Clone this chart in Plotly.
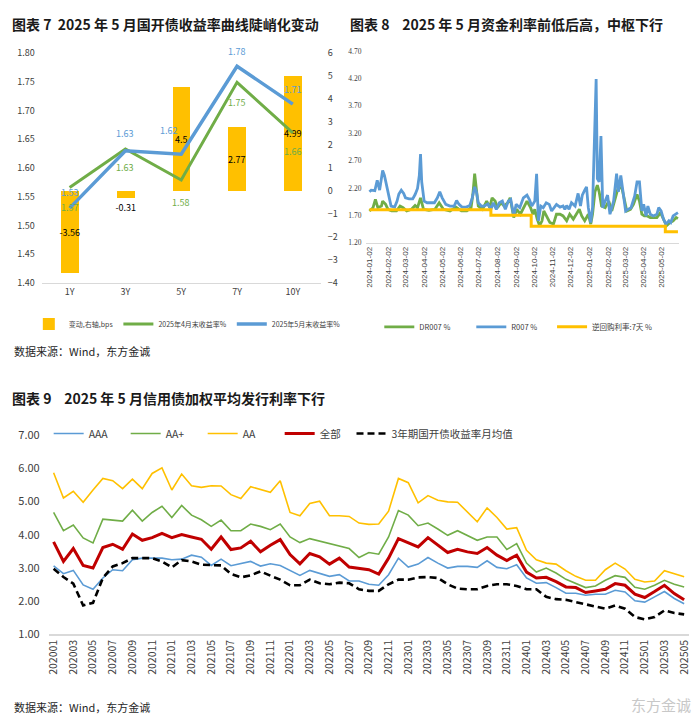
import plotly.graph_objects as go

FONT = "Noto Sans CJK SC"
W, H = 700, 726


def px_x(x):
    return x / W


def px_y(y):
    return 1 - y / H


# ---------------- Chart 7 data ----------------
tenors = ["1Y", "3Y", "5Y", "7Y", "10Y"]
change_bps = [-3.56, -0.31, 4.5, 2.77, 4.99]
yld_apr = [1.566, 1.633, 1.579, 1.749, 1.661]
yld_may = [1.530, 1.630, 1.624, 1.777, 1.711]
apr_labels = ["1.57", "1.63", "1.58", "1.75", "1.66"]
may_labels = ["1.53", "1.63", "1.62", "1.78", "1.71"]
change_labels = ["-3.56", "-0.31", "4.5", "2.77", "4.99"]

# ---------------- Chart 8 data ----------------
r007_dates = [
    "2024-01-02", "2024-01-05", "2024-01-11", "2024-01-15", "2024-01-19", "2024-01-22", "2024-01-24",
    "2024-01-27", "2024-01-30", "2024-02-03", "2024-02-07", "2024-02-13", "2024-02-17", "2024-02-20",
    "2024-02-24", "2024-02-28", "2024-03-02", "2024-03-08", "2024-03-14", "2024-03-18", "2024-03-22",
    "2024-03-25", "2024-03-27", "2024-03-29", "2024-04-02", "2024-04-07", "2024-04-14", "2024-04-19",
    "2024-04-24", "2024-04-28", "2024-05-02", "2024-05-08", "2024-05-15", "2024-05-22", "2024-05-26",
    "2024-05-30", "2024-06-04", "2024-06-11", "2024-06-17", "2024-06-21", "2024-06-25", "2024-06-28",
    "2024-07-01", "2024-07-06", "2024-07-11", "2024-07-17", "2024-07-22", "2024-07-26", "2024-07-31",
    "2024-08-05", "2024-08-10", "2024-08-15", "2024-08-20", "2024-08-24", "2024-08-29", "2024-09-02",
    "2024-09-08", "2024-09-14", "2024-09-20", "2024-09-24", "2024-09-28", "2024-10-03", "2024-10-06",
    "2024-10-09", "2024-10-13", "2024-10-17", "2024-10-22", "2024-10-27", "2024-10-31", "2024-11-04",
    "2024-11-08", "2024-11-14", "2024-11-19", "2024-11-22", "2024-11-25", "2024-11-29", "2024-12-03",
    "2024-12-09", "2024-12-14", "2024-12-18", "2024-12-21", "2024-12-25", "2024-12-28", "2024-12-31",
    "2025-01-04", "2025-01-07", "2025-01-09", "2025-01-13", "2025-01-15", "2025-01-18", "2025-01-21",
    "2025-01-24", "2025-01-28", "2025-02-01", "2025-02-05", "2025-02-11", "2025-02-16", "2025-02-19",
    "2025-02-23", "2025-02-27", "2025-03-03", "2025-03-07", "2025-03-12", "2025-03-18", "2025-03-22",
    "2025-03-26", "2025-03-30", "2025-04-02", "2025-04-06", "2025-04-09", "2025-04-13", "2025-04-18",
    "2025-04-24", "2025-04-27", "2025-05-01", "2025-05-05", "2025-05-09", "2025-05-14", "2025-05-17",
    "2025-05-21", "2025-05-26", "2025-05-29",
]
r007_vals = [
    2.13, 2.16, 2.15, 2.34, 2.16, 2.37, 2.52,
    2.43, 2.28, 2.08, 1.87, 1.85, 1.96, 2.09,
    2.16, 2.10, 2.02, 2.00, 2.00, 2.08, 2.19,
    2.43, 2.82, 2.31, 1.96, 1.93, 1.93, 1.93,
    2.02, 2.13, 2.02, 1.90, 1.87, 1.87, 1.97,
    1.90, 1.85, 1.85, 1.88, 2.02, 2.22, 2.13,
    1.93, 1.87, 1.87, 1.91, 1.81, 1.93, 1.81,
    1.93, 1.96, 1.81, 1.96, 1.99, 1.69, 1.90,
    1.84, 2.02, 2.07, 1.99, 1.87, 1.96, 2.46,
    1.60, 1.87, 1.84, 1.93, 1.90, 1.78, 1.84,
    1.90, 1.85, 1.87, 1.81, 1.88, 1.81, 1.93,
    1.87, 2.10, 1.87, 2.07, 2.16, 2.22, 1.84,
    1.57, 1.84, 2.58, 4.19, 2.37, 2.31, 3.15,
    1.84, 1.96, 2.07, 1.72, 1.96, 2.46, 2.13,
    2.43, 2.13, 1.78, 1.81, 1.84, 2.05, 2.31,
    2.31, 1.78, 1.90, 1.69, 1.87, 1.72, 1.69,
    1.72, 1.84, 1.78, 1.63, 1.54, 1.60, 1.57,
    1.69, 1.72, 1.75,
]
dr007_dates = [
    "2024-01-02", "2024-01-08", "2024-01-12", "2024-01-16", "2024-01-22", "2024-01-24", "2024-01-29",
    "2024-02-02", "2024-02-08", "2024-02-16", "2024-02-22", "2024-02-27", "2024-03-04", "2024-03-12",
    "2024-03-18", "2024-03-22", "2024-03-27", "2024-04-01", "2024-04-10", "2024-04-20", "2024-04-27",
    "2024-05-04", "2024-05-15", "2024-05-25", "2024-06-03", "2024-06-12", "2024-06-19", "2024-06-22",
    "2024-06-25", "2024-06-28", "2024-07-01", "2024-07-08", "2024-07-15", "2024-07-20", "2024-07-24",
    "2024-07-29", "2024-08-02", "2024-08-08", "2024-08-13", "2024-08-19", "2024-08-23", "2024-08-29",
    "2024-09-03", "2024-09-09", "2024-09-14", "2024-09-20", "2024-09-26", "2024-09-30", "2024-10-03",
    "2024-10-07", "2024-10-11", "2024-10-15", "2024-10-18", "2024-10-23", "2024-10-28", "2024-11-03",
    "2024-11-08", "2024-11-14", "2024-11-19", "2024-11-25", "2024-11-30", "2024-12-06", "2024-12-11",
    "2024-12-16", "2024-12-20", "2024-12-25", "2024-12-31", "2025-01-04", "2025-01-07", "2025-01-11",
    "2025-01-15", "2025-01-18", "2025-01-22", "2025-01-28", "2025-02-03", "2025-02-08", "2025-02-14",
    "2025-02-19", "2025-02-25", "2025-03-01", "2025-03-05", "2025-03-11", "2025-03-16", "2025-03-22",
    "2025-03-26", "2025-03-30", "2025-04-03", "2025-04-08", "2025-04-13", "2025-04-19", "2025-04-24",
    "2025-04-30", "2025-05-05", "2025-05-10", "2025-05-16", "2025-05-21", "2025-05-26", "2025-05-29",
]
dr007_vals = [
    1.78, 1.84, 1.99, 1.84, 1.87, 1.96, 1.90,
    1.81, 1.78, 1.78, 1.87, 1.84, 1.78, 1.81,
    1.88, 1.84, 2.02, 1.81, 1.79, 1.81, 1.93,
    1.81, 1.78, 1.85, 1.78, 1.78, 1.84, 2.08,
    2.46, 2.19, 1.87, 1.81, 1.96, 1.84, 2.02,
    1.96, 1.84, 1.93, 1.87, 1.93, 2.02, 1.66,
    1.81, 1.72, 1.84, 1.96, 1.84, 1.72, 1.81,
    1.63, 1.51, 1.60, 1.78, 1.66, 1.57, 1.54,
    1.72, 1.72, 1.69, 1.60, 1.72, 1.63, 1.72,
    1.81, 1.69, 1.60, 1.72, 1.54, 1.72, 2.13,
    2.25, 2.13, 1.87, 1.84, 1.96, 1.78, 2.02,
    2.22, 2.19, 1.96, 1.78, 1.81, 1.90, 2.08,
    1.96, 1.72, 1.69, 1.69, 1.66, 1.66, 1.66,
    1.75, 1.63, 1.51, 1.57, 1.60, 1.66, 1.64,
]
rrp_dates = ["2024-01-02", "2024-07-22", "2024-09-27", "2025-05-08", "2025-05-29"]
rrp_vals = [1.80, 1.70, 1.50, 1.40, 1.40]
c8_tickvals = [
    "2024-01-02", "2024-02-02", "2024-03-02", "2024-04-02", "2024-05-02", "2024-06-02",
    "2024-07-02", "2024-08-02", "2024-09-02", "2024-10-02", "2024-11-02", "2024-12-02",
    "2025-01-02", "2025-02-02", "2025-03-02", "2025-04-02", "2025-05-02",
]

# ---------------- Chart 9 data ----------------
months = [f"{y}{m:02d}" for y in range(2020, 2026) for m in range(1, 13)][:65]
aaa = [3.06, 2.82, 2.92, 2.48, 2.35, 2.69, 2.94, 2.91, 3.24, 3.29, 3.29, 3.29, 3.24,
       3.26, 3.38, 3.32, 3.07, 3.26, 3.06, 3.12, 3.19, 3.05, 3.12, 3.07, 2.93, 2.77,
       2.92, 2.84, 2.74, 2.79, 2.60, 2.60, 2.50, 2.47, 2.79, 3.29, 3.02, 3.11, 3.31,
       3.14, 2.99, 3.04, 3.04, 3.01, 3.21, 3.01, 2.97, 3.09, 2.69, 2.53, 2.55, 2.40,
       2.23, 2.23, 2.17, 2.20, 2.20, 2.32, 2.27, 2.00, 1.96, 2.12, 2.28, 2.07, 1.91]
aa_plus = [4.67, 4.12, 4.29, 3.90, 3.75, 4.47, 4.44, 4.41, 4.74, 4.41, 4.67, 4.86, 4.52,
           4.88, 4.59, 4.45, 4.25, 4.44, 4.12, 4.12, 4.32, 4.25, 4.15, 4.32, 3.93, 3.76,
           3.88, 3.81, 3.73, 3.65, 3.58, 3.31, 3.46, 3.41, 3.93, 4.73, 4.59, 4.27, 4.35,
           4.17, 3.98, 4.12, 3.98, 3.83, 3.93, 3.93, 3.55, 3.73, 3.14, 2.87, 2.99, 2.84,
           2.65, 2.53, 2.40, 2.45, 2.62, 2.76, 2.71, 2.41, 2.35, 2.47, 2.62, 2.50, 2.42]
aa = [5.87, 5.11, 5.31, 4.98, 5.35, 5.70, 5.63, 5.39, 5.68, 5.39, 5.85, 6.02, 5.35,
      5.83, 5.48, 5.43, 5.48, 5.47, 5.21, 5.09, 5.45, 5.37, 5.28, 5.63, 4.67, 4.57,
      4.94, 5.01, 4.57, 4.57, 4.55, 4.35, 4.31, 4.32, 4.71, 5.70, 5.57, 4.96, 5.18,
      5.04, 4.99, 4.98, 4.68, 4.39, 4.81, 4.52, 4.17, 4.21, 3.53, 3.24, 3.14, 3.11,
      2.91, 2.74, 2.62, 2.62, 2.94, 3.14, 2.96, 2.65, 2.57, 2.60, 2.91, 2.81, 2.73]
all_bonds = [3.78, 3.19, 3.58, 3.07, 2.99, 3.61, 3.71, 3.56, 4.02, 3.83, 3.91, 4.04, 3.91,
             4.00, 3.93, 3.86, 3.56, 3.93, 3.55, 3.60, 3.80, 3.48, 3.68, 3.85, 3.40, 3.12,
             3.43, 3.33, 3.11, 3.29, 3.02, 2.99, 2.94, 2.81, 3.29, 3.88, 3.76, 3.63, 3.91,
             3.68, 3.46, 3.56, 3.48, 3.43, 3.61, 3.38, 3.22, 3.38, 2.87, 2.69, 2.71, 2.58,
             2.42, 2.40, 2.25, 2.30, 2.35, 2.52, 2.47, 2.20, 2.10, 2.28, 2.47, 2.22, 2.03]
cdb3y = [2.97, 2.72, 2.52, 1.86, 1.94, 2.69, 3.04, 3.14, 3.29, 3.30, 3.29, 3.19, 3.01,
         3.23, 3.19, 3.09, 3.07, 3.07, 2.81, 2.71, 2.77, 2.89, 2.76, 2.64, 2.47, 2.47,
         2.64, 2.53, 2.50, 2.55, 2.53, 2.35, 2.30, 2.30, 2.50, 2.64, 2.64, 2.71, 2.72,
         2.69, 2.50, 2.37, 2.35, 2.35, 2.45, 2.50, 2.50, 2.45, 2.35, 2.35, 2.12, 2.05,
         2.03, 1.96, 1.91, 1.84, 1.76, 1.86, 1.76, 1.51, 1.44, 1.51, 1.71, 1.63, 1.59]

BLUE = "#5B9BD5"
GREEN = "#70AD47"
ORANGE = "#FFC000"
RED = "#C00000"

fig = go.Figure()

# ---- Chart 7 ----
fig.add_trace(go.Bar(
    x=tenors, y=change_bps, xaxis="x", yaxis="y", name="变动,右轴,bps",
    marker=dict(color=ORANGE, line=dict(width=0)), width=0.32,
    text=change_labels, textposition=["inside", "outside", "inside", "inside", "inside"],
    insidetextanchor="middle", textangle=0, constraintext="none", cliponaxis=False,
    textfont=dict(size=9, color="black", family=FONT), legend="legend",
))
fig.add_trace(go.Scatter(
    x=tenors, y=yld_apr, xaxis="x", yaxis="y2", name="2025年4月末收益率%",
    mode="lines", line=dict(color=GREEN, width=3), legend="legend",
))
fig.add_trace(go.Scatter(
    x=tenors, y=yld_may, xaxis="x", yaxis="y2", name="2025年5月末收益率%",
    mode="lines", line=dict(color=BLUE, width=3.5), legend="legend",
))

# ---- Chart 8 ----
fig.add_trace(go.Scatter(
    x=dr007_dates, y=dr007_vals, xaxis="x3", yaxis="y3", name="DR007 %",
    mode="lines", line=dict(color=GREEN, width=2.8), legend="legend2",
))
fig.add_trace(go.Scatter(
    x=r007_dates, y=r007_vals, xaxis="x3", yaxis="y3", name="R007 %",
    mode="lines", line=dict(color=BLUE, width=2.8), legend="legend2",
))
fig.add_trace(go.Scatter(
    x=rrp_dates, y=rrp_vals, xaxis="x3", yaxis="y3", name="逆回购利率:7天 %",
    mode="lines", line=dict(color=ORANGE, width=3, shape="hv"), legend="legend4",
))

# ---- Chart 9 ----
for name, vals, color, width, dash, lg in [
    ("AAA", aaa, BLUE, 1.6, "solid", "legend3"),
    ("AA+", aa_plus, GREEN, 1.6, "solid", "legend3"),
    ("AA", aa, ORANGE, 1.6, "solid", "legend3"),
    ("全部", all_bonds, RED, 3, "solid", "legend3"),
    ("3年期国开债收益率月均值", cdb3y, "black", 2.6, "7px,4px", "legend5"),
]:
    fig.add_trace(go.Scatter(
        x=months, y=vals, xaxis="x4", yaxis="y4", name=name, mode="lines",
        line=dict(color=color, width=width, dash=dash), legend=lg,
    ))

axis_common = dict(showgrid=False, zeroline=False, ticks="", color="#404040")
leg_common = dict(xanchor="left", yanchor="middle", orientation="h",
                  bgcolor="rgba(0,0,0,0)", itemwidth=30)

fig.update_layout(
    width=W, height=H, autosize=False,
    margin=dict(l=0, r=0, t=0, b=0),
    paper_bgcolor="white", plot_bgcolor="white",
    font=dict(family=FONT, color="#404040"),
    bargap=0,
    # chart 7
    xaxis=dict(domain=[px_x(38), px_x(319)], anchor="y", type="category", range=[-0.5, 4.5],
               showline=True, linecolor="#D9D9D9", linewidth=1,
               tickfont=dict(size=9, color="#404040"), **axis_common),
    yaxis=dict(domain=[px_y(280), px_y(45)], anchor="x", side="right", range=[-4, 6], dtick=1,
               tickfont=dict(size=9, color="#404040"), ticklabelstandoff=6, **axis_common),
    yaxis2=dict(overlaying="y", anchor="x", side="left", range=[1.40, 1.80], dtick=0.05,
                tickformat=".2f", tickfont=dict(size=9, color="#404040"), ticklabelstandoff=6,
                **axis_common),
    # chart 8
    xaxis3=dict(domain=[px_x(365), px_x(680)], anchor="y3", type="date",
                range=["2023-12-28", "2025-05-31"], tickmode="array",
                tickvals=c8_tickvals, ticktext=c8_tickvals, tickangle=-90,
                showline=True, linecolor="#D9D9D9", linewidth=1,
                tickfont=dict(size=8, color="#404040", family="Liberation Sans"), **axis_common),
    yaxis3=dict(domain=[px_y(239), px_y(43)], anchor="x3", range=[1.2, 4.7], dtick=0.5, tick0=1.2,
                tickformat=".2f", tickfont=dict(size=7.5, color="#404040", family="Liberation Serif"),
                ticklabelstandoff=4, **axis_common),
    # chart 9
    xaxis4=dict(domain=[px_x(45), px_x(690)], anchor="y4", type="category", range=[-0.5, 64.5],
                tickmode="array", tickvals=months[::2], ticktext=months[::2], tickangle=-90,
                showline=True, linecolor="#D9D9D9", linewidth=1.5,
                tickfont=dict(size=10.5, color="#404040"), **axis_common),
    yaxis4=dict(domain=[px_y(639), px_y(436)], anchor="x4", range=[1, 7], dtick=1,
                tickformat=".2f", tickfont=dict(size=11, color="#404040"), ticklabelstandoff=8,
                **axis_common),
    legend=dict(x=px_x(25), y=px_y(322), font=dict(size=7, color="#404040"), **leg_common),
    legend2=dict(x=px_x(378), y=px_y(325), font=dict(size=7.5, color="#404040"),
                 entrywidth=47, **leg_common),
    legend4=dict(x=px_x(552), y=px_y(325), font=dict(size=7.5, color="#404040"), **leg_common),
    legend3=dict(x=px_x(45), y=px_y(434), font=dict(size=10.5, color="#404040"),
                 entrywidth=32, **leg_common),
    legend5=dict(x=px_x(350), y=px_y(434), font=dict(size=10.5, color="#404040"), **leg_common),
    showlegend=True,
)

title_font = dict(family=FONT, size=14, color="#1a1a1a")
src_font = dict(family=FONT, size=11, color="#262626")
annots = [
    dict(text="<b>图表 7  2025 年 5 月国开债收益率曲线陡峭化变动</b>", x=px_x(6), y=px_y(15), font=title_font),
    dict(text="<b>图表 8    2025 年 5 月资金利率前低后高，中枢下行</b>", x=px_x(346), y=px_y(15), font=title_font),
    dict(text="<b>图表 9    2025 年 5 月信用债加权平均发行利率下行</b>", x=px_x(6), y=px_y(398), font=title_font),
    dict(text="数据来源：Wind，东方金诚", x=px_x(8), y=px_y(350), font=src_font),
    dict(text="数据来源：Wind，东方金诚", x=px_x(8), y=px_y(714), font=src_font),
    dict(text="东方金诚", x=px_x(694), y=px_y(711), xanchor="right",
         font=dict(family=FONT, size=15, color="#C8C8C8")),
]
for a in annots:
    a.setdefault("xanchor", "left")
    a.update(xref="paper", yref="paper", yanchor="middle", showarrow=False)

# data labels on the chart-7 lines (offsets in pixels are styling only)
may_shift = [(0, 16), (0, 17), (-12, 24), (0, 15), (0, 15)]
apr_shift = [(0, -20), (0, -19), (0, -23), (0, -20), (0, -19)]
for xs, ys, labels, shifts, color in [
    (tenors, yld_may, may_labels, may_shift, BLUE),
    (tenors, yld_apr, apr_labels, apr_shift, GREEN),
]:
    for xv, yv, lab, (dx, dy) in zip(xs, ys, labels, shifts):
        annots.append(dict(text=lab, x=xv, y=yv, xref="x", yref="y2", xshift=dx, yshift=dy,
                           showarrow=False, xanchor="center", yanchor="middle",
                           font=dict(family=FONT, size=9, color=color)))

fig.update_layout(annotations=annots)

fig.write_html("out.html", config={"displayModeBar": False},
               post_script="document.body.style.margin='0';")
